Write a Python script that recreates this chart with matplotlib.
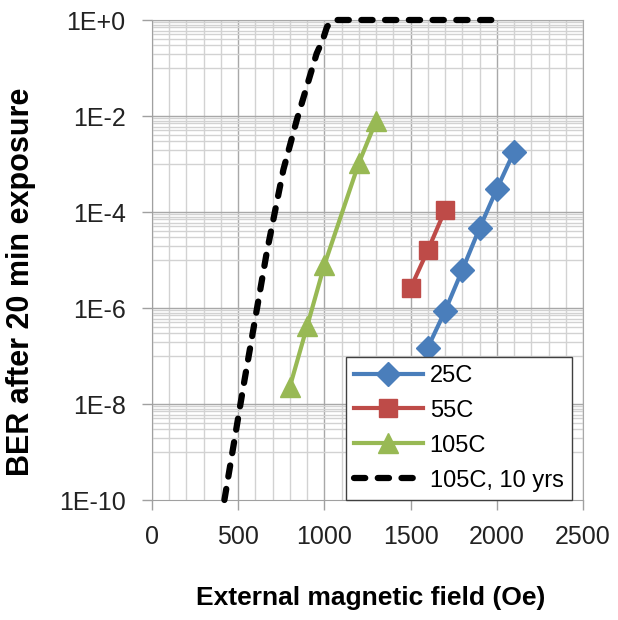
import numpy as np
import matplotlib
matplotlib.use("Agg")
import matplotlib.pyplot as plt

plt.rcParams['font.family'] = ['Liberation Sans', 'DejaVu Sans']

# values
field_25 = [1600, 1700, 1800, 1900, 2000, 2100]
ber_25 = [1.5e-7, 8.7e-7, 6.2e-6, 4.6e-5, 3.0e-4, 1.8e-3]

field_55 = [1500, 1600, 1700]
ber_55 = [2.6e-6, 1.6e-5, 1.1e-4]

field_105 = [800, 900, 1000, 1200, 1300]
ber_105 = [2.3e-8, 4.2e-7, 7.9e-6, 1.05e-3, 7.9e-3]

field_10y = [420, 530, 665, 762, 840, 955, 990, 1015, 1050, 1500, 2000]
ber_10y = [1e-10, 2.3e-8, 1.4e-5, 7.6e-4, 8.3e-3, 0.2, 0.38, 0.72, 1.0, 1.0, 1.0]

xticks = [0, 500, 1000, 1500, 2000, 2500]
ydecades = [0, -2, -4, -6, -8, -10]
ylabels = ['1E+0', '1E-2', '1E-4', '1E-6', '1E-8', '1E-10']

fig = plt.figure(figsize=(6.18, 6.2), dpi=100)
ax = fig.add_axes([152/618, 1-500/620, 431/618, 480/620])

ax.set_xlim(0, 2500)
ax.set_yscale('log')
ax.set_ylim(1e-10, 1)

# grid like the excel chart
light = '#d2d2d2'
dark = '#a8a8a8'
for x in range(0, 2501, 100):
    ax.axvline(x, color=dark if x % 500 == 0 else light, lw=1.0, zorder=0)
for k in range(0, 10, 2):
    top = 10.0 ** (-k)
    ax.axhline(top, color=dark, lw=1.0, zorder=0)
    for m in range(1, 10):
        ax.axhline(top * m / 10, color=light, lw=1.0, zorder=0)

ax.plot(field_25, ber_25, color='#4a7ebb', lw=3, marker='D', ms=12,
        label='25C', zorder=3)
ax.plot(field_55, ber_55, color='#be4b48', lw=3, marker='s', ms=13,
        label='55C', zorder=3)
ax.plot(field_105, ber_105, color='#98b954', lw=3, marker='^', ms=14,
        label='105C', zorder=3)
ax.plot(field_10y, ber_10y, color='black', lw=4.5, dashes=(1.8, 2.0),
        dash_capstyle='round', label='105C, 10 yrs', clip_on=False, zorder=3)

ax.set_xticks(xticks)
ax.set_xticklabels([str(v) for v in xticks])
ax.set_yticks([10.0 ** d for d in ydecades])
ax.set_yticklabels(ylabels)
ax.yaxis.set_minor_locator(matplotlib.ticker.NullLocator())
ax.tick_params(axis='both', labelsize=18, length=7, width=1, color='#a0a0a0',
               labelcolor='#222222')
ax.tick_params(axis='x', pad=11)
ax.tick_params(axis='y', pad=12)

for s in ['left', 'bottom']:
    ax.spines[s].set_color('#a0a0a0')
for s in ['top', 'right']:
    ax.spines[s].set_color(dark)

ax.set_xlabel('External magnetic field (Oe)', fontsize=19, fontweight='bold')
ax.xaxis.set_label_coords(0.508, -0.18)
ax.set_ylabel('BER after 20 min exposure', fontsize=22, fontweight='bold')
ax.yaxis.set_label_coords(-0.27, 0.454)

leg = ax.legend(loc='lower right', bbox_to_anchor=(0.974, 0.0), fontsize=17,
                frameon=True, fancybox=False, edgecolor='#404040',
                framealpha=1, borderaxespad=0, handlelength=2.9,
                handletextpad=0.3, labelspacing=0.55, borderpad=0.35)
leg.get_frame().set_linewidth(1.0)

fig.savefig('out.png', dpi=100)
